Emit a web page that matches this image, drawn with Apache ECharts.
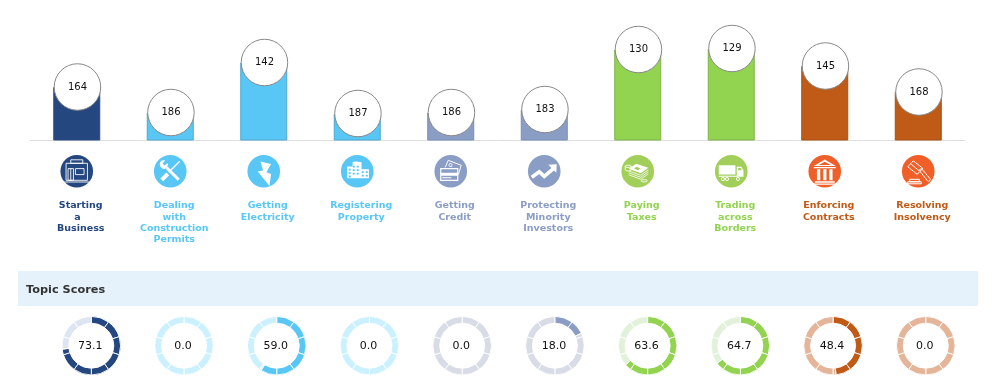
<!DOCTYPE html>
<html>
<head>
<meta charset="utf-8">
<title>Topic Scores</title>
<script src="https://cdn.jsdelivr.net/npm/echarts@6/dist/echarts.min.js"></script>
<style>
  html, body { margin: 0; padding: 0; background: #fff; }
  #chart { width: 997px; height: 392px; }
</style>
</head>
<body>
<div id="chart"></div>
<script>
const categories = [
  'Starting\na  \nBusiness',
  'Dealing\nwith\nConstruction\nPermits',
  'Getting\nElectricity',
  'Registering\nProperty',
  'Getting\nCredit',
  'Protecting\nMinority\nInvestors',
  'Paying\nTaxes',
  'Trading\nacross\nBorders',
  'Enforcing\nContracts',
  'Resolving\nInsolvency'
];
const ranks = [164, 186, 142, 187, 186, 183, 130, 129, 145, 168];
const barValues = [53.5, 28, 78, 27, 28, 31, 91, 92, 74.5, 48.5];
const scores = [73.1, 0.0, 59.0, 0.0, 0.0, 18.0, 63.6, 64.7, 48.4, 0.0];

const mainColors = ['#24477f', '#58c7f5', '#58c7f5', '#58c7f5', '#8a9dc5', '#8a9dc5', '#92d350', '#92d350', '#c05a17', '#c05a17'];
const barBorders = ['#2c4d80', '#4fa8d0', '#4fa8d0', '#4fa8d0', '#7a8db5', '#7a8db5', '#7fb24a', '#7fb24a', '#a85016', '#a85016'];
const lightColors = ['#dde4f2', '#cbf0ff', '#cbf0ff', '#cbf0ff', '#d8dce6', '#d8dce6', '#e2f1da', '#e2f1da', '#e4b598', '#e4b598'];
const iconColors = ['#24477f', '#58c7f5', '#58c7f5', '#58c7f5', '#8a9dc5', '#8a9dc5', '#a2cf5a', '#a2cf5a', '#f05f28', '#f05f28'];

// icons are in a 33x33 box, the circle sits in the middle of it
const iconParts = [
  [
    { line: 0.9, d: 'M10.5 5H22.5V8.5H10.5ZM5.8 8.5H27.2V25.5H5.8ZM7.8 13.8H13.2V25.5H7.8ZM10.5 13.8V25.5M15.2 13.8H23.8V19.8H15.2ZM4 27.2H29' }
  ],
  [
    { line: 3, d: 'M13 13L25 25' },
    { fill: 1, d: 'M6 9.5C6 7.5 7 6 9 5.5L11.5 5.5L9 8.8L10.5 10.6L14 8.5C14.5 11 13.2 14.8 9.5 14C7.5 13.6 6 11.8 6 9.5Z' },
    { line: 1.5, d: 'M26 6.5L15 17.5' },
    { line: 4, d: 'M14 19L8 25' }
  ],
  [
    { fill: 1, d: 'M13.2 6.8L23.8 9.2L19.2 17.5L23.8 19.2L22.2 31.2L10.5 16.8L15.8 15.8Z' }
  ],
  [
    { fill: 1, d: 'M6.5 11.8H11.8V7.5C13.5 6.5 15.5 6.5 20.8 7.5V14.5H28.2V23.5H6.5Z' },
    { bg: 1, d: 'M8 14H10V15.8H8ZM12 11H14V12.8H12ZM16 11H18V12.8H16ZM8 17.5H10V19.3H8ZM12 14.5H14V16.3H12ZM16 14.5H18V16.3H16ZM12 18H14V19.8H12ZM16 18H18V19.8H16ZM21 16.5H23V18.3H21ZM25 16.5H27V18.3H25ZM21 20H23V21.8H21ZM25 20H27V21.8H25ZM8 20.8H10V22.6H8Z' }
  ],
  [
    { line: 1, d: 'M11 12.5L14 5.5L27 10.5L24 20' },
    { line: 0.8, d: 'M15.5 8.5L18 9.5L17 12L14.5 11Z' },
    { line: 1.2, d: 'M6.5 13.8H23.5V25.5H6.5Z' },
    { fill: 1, d: 'M6.5 18H23.5V21H6.5ZM8 22.5H17V23.5H8Z' }
  ],
  [
    { line: 3.6, d: 'M4 22.5L11.5 17L16.5 21.5L26 13.5' },
    { fill: 1, d: 'M20.5 10L29 9.5L28.5 18Z' }
  ],
  [
    { fill: 1, d: 'M15 9L27 13L19.5 18.5L7.5 14Z' },
    { line: 0.8, d: 'M7.5 16L19.5 20.5L27 15M7.5 18L19.5 22.5L27 17M7.5 20L19.5 24.5L27 19' },
    { bg: 1, d: 'M15 12L19 13.5L17 15.5L13 14Z' },
    { line: 0.9, d: 'M4 11.5C4 10 10 10 10 11.5V15C10 16.5 4 16.5 4 15ZM4 11.5C4 13 10 13 10 11.5' },
    { line: 0.9, d: 'M20 26C20 24.5 26 24.5 26 26C26 27.5 20 27.5 20 26Z' }
  ],
  [
    { fill: 1, d: 'M4 10.5H20.7V19.8H4ZM22 12H26.5L28.7 15.5V21H22ZM4 21H28.7V22H4Z' },
    { bg: 1, d: 'M23.5 13.3H26L27 15.5H23.5Z' },
    { line: 1, d: 'M9.8 24.2A1.6 1.6 0 1 0 6.6 24.2A1.6 1.6 0 1 0 9.8 24.2ZM13.8 24.2A1.6 1.6 0 1 0 10.6 24.2A1.6 1.6 0 1 0 13.8 24.2ZM24.8 24.2A1.6 1.6 0 1 0 21.6 24.2A1.6 1.6 0 1 0 24.8 24.2Z' }
  ],
  [
    { fill: 1, d: 'M16.5 4.8L27.5 11.2H5.5ZM5.5 12.2H27.5V13.4H5.5ZM8.7 14.5H12V25.5H8.7ZM15 14.5H18.2V25.5H15ZM21 14.5H24.3V25.5H21ZM6.5 26.5H26.5V28H6.5ZM4.5 28.8H28.5V30H4.5Z' },
    { bg: 1, d: 'M16.5 7L22.5 10.2H10.5Z' }
  ],
  [
    { line: 1, d: 'M11.5 6L21 13.5L15.5 19.5L6 12ZM9 9L17.5 16' },
    { line: 1, d: 'M17.5 15.5L19.5 13.5L28 23.5C29.5 25.5 27 27.5 25.5 25.8Z' },
    { line: 1, d: 'M8 24.5H17.5V27H8ZM6 27H19.5V29H6Z' }
  ]
];

const chart = echarts.init(document.getElementById('chart'));

// one ring is 10 segments, each one split where the score ends
const buildSegments = (score, i) => {
  const data = [];
  for (let s = 0; s < 10; s++) {
    const filled = Math.min(Math.max(score - s * 10, 0), 10);
    if (filled > 0) {
      data.push({ value: filled, itemStyle: { color: mainColors[i] } });
    }
    if (filled < 10) {
      data.push({ value: 10 - filled, itemStyle: { color: lightColors[i] } });
    }
  }
  data[0].label = {
    show: true,
    position: 'center',
    formatter: score.toFixed(1),
    fontSize: 11,
    color: '#111',
    fontFamily: 'DejaVu Sans',
    padding: [0, 2, 0, 0]
  };
  return data;
};

const ringSeries = scores.map((score, i) => ({
  type: 'pie',
  center: [91.3 + i * 92.72, 345.7],
  radius: [22.5, 29.3],
  startAngle: 90,
  silent: true,
  avoidLabelOverlap: false,
  label: { show: false },
  labelLine: { show: false },
  itemStyle: { borderColor: '#fff', borderWidth: 0.9 },
  data: buildSegments(score, i)
}));

const renderIcon = (params, api) => {
  const pos = api.coord([api.value(0), 0]);
  const i = params.dataIndex;
  const children = [{
    type: 'circle',
    shape: { cx: 0, cy: 0, r: 16.3 },
    style: { fill: iconColors[i] }
  }];
  iconParts[i].forEach((part) => {
    children.push({
      type: 'path',
      // zero length lines at the corners pin the box so the path is not stretched
      shape: { pathData: 'M0 0L0 0M33 33L33 33' + part.d, x: -16.5, y: -16.5, width: 33, height: 33 },
      style: {
        fill: part.fill ? '#fff' : part.bg ? iconColors[i] : 'none',
        stroke: part.line ? '#fff' : 'none',
        lineWidth: part.line || 0
      }
    });
  });
  return { type: 'group', x: pos[0], y: pos[1] + 30.8, children: children };
};

const option = {
  animation: false,
  textStyle: { fontFamily: 'DejaVu Sans' },
  title: {
    text: 'Topic Scores',
    left: 26,
    top: 285,
    padding: 0,
    textStyle: { fontSize: 11.3, fontWeight: 'bold', color: '#333', fontFamily: 'DejaVu Sans' }
  },
  graphic: [{
    type: 'rect',
    z: -1,
    shape: { x: 18, y: 271, width: 960, height: 35 },
    style: { fill: '#e5f1fb' }
  }],
  grid: { left: 30, top: 0, width: 935, height: 140.5 },
  xAxis: {
    type: 'category',
    data: categories.map((name, i) => ({ value: name, textStyle: { color: mainColors[i] } })),
    axisTick: { show: false },
    axisLine: { lineStyle: { color: '#ddd', width: 1 } },
    axisLabel: {
      interval: 0,
      margin: 59.5,
      fontSize: 9.5,
      fontWeight: 'bold',
      lineHeight: 11.4,
      padding: [0, 0, 0, 8],
      fontFamily: 'DejaVu Sans'
    }
  },
  yAxis: { type: 'value', min: 0, max: 140.5, show: false },
  series: [
    {
      type: 'bar',
      barWidth: 47,
      data: barValues.map((value, i) => ({
        value: value,
        itemStyle: { color: mainColors[i], borderColor: barBorders[i], borderWidth: 1 }
      }))
    },
    {
      type: 'scatter',
      clip: false,
      z: 5,
      symbol: 'circle',
      symbolSize: 46.5,
      symbolOffset: [0.7, 0],
      itemStyle: { color: '#fff', borderColor: '#888', borderWidth: 1, opacity: 1 },
      label: {
        show: true,
        position: 'inside',
        fontSize: 10,
        color: '#111',
        formatter: (p) => String(ranks[p.dataIndex])
      },
      data: barValues
    },
    {
      type: 'custom',
      z: 4,
      silent: true,
      renderItem: renderIcon,
      encode: { x: 0, y: 1 },
      data: categories.map((name, i) => [i, 0])
    },
    ...ringSeries
  ]
};

chart.setOption(option);
</script>
</body>
</html>
